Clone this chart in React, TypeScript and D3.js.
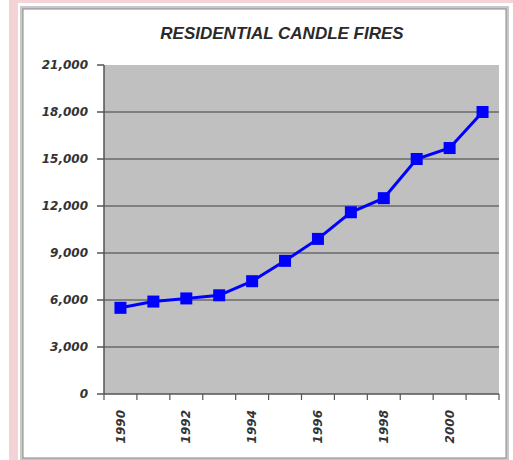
import React from "react";
import * as d3 from "d3";

const years = [1990, 1991, 1992, 1993, 1994, 1995, 1996, 1997, 1998, 1999, 2000, 2001];
const fires = [5500, 5900, 6100, 6300, 7200, 8500, 9900, 11600, 12500, 15000, 15700, 18000];
const yTicks = [0, 3000, 6000, 9000, 12000, 15000, 18000, 21000];
const xLabelYears = [1990, 1992, 1994, 1996, 1998, 2000];
const title = "RESIDENTIAL CANDLE FIRES";

export default function App() {
  const W = 513, H = 460;
  const left = 104, right = 499, top = 65, bottom = 394;
  const x = d3.scaleBand<number>().domain(years).range([left, right]).padding(0);
  const y = d3.scaleLinear().domain([0, 21000]).range([bottom, top]);
  const fmt = d3.format(",");
  const line = d3.line<number>()
    .x((_, i) => (x(years[i]) as number) + x.bandwidth() / 2)
    .y((d) => y(d));
  const boundaries = years.map((yr) => x(yr) as number).concat([right]);
  const font = "'DejaVu Sans', Arial, sans-serif";
  const ms = 12;

  return (
    <svg width={W} height={H} style={{ position: "absolute", left: 0, top: 0, background: "#fff" }}>
      {/* pink page strips */}
      <rect x={9} y={0} width={9} height={H} fill="#f4d3d6" />
      <rect x={9} y={0} width={W - 9} height={3} fill="#f4d3d6" />
      {/* chart frame */}
      <rect x={21.5} y={7.5} width={486} height={452} fill="#fff" stroke="#c8c8c8" strokeWidth={3} />
      <rect x={23} y={9} width={483} height={449} fill="#fff" stroke="#888" strokeWidth={1} />
      {/* title */}
      <text x={282} y={39} textAnchor="middle" fontFamily="'Liberation Sans', Arial, sans-serif"
        fontStyle="italic" fontWeight="bold" fontSize={17} fill="#2a2a2a">{title}</text>
      {/* plot area */}
      <rect x={left} y={top} width={right - left} height={bottom - top} fill="#c0c0c0" />
      {/* gridlines & y ticks */}
      {yTicks.map((t) => (
        <g key={t}>
          {t > 0 && t < 21000 && (
            <line x1={left} x2={right} y1={y(t)} y2={y(t)} stroke="#6a6a6a" strokeWidth={1.6} />
          )}
          <line x1={97} x2={left} y1={y(t)} y2={y(t)} stroke="#555" strokeWidth={1.5} />
          <text x={88} y={y(t)} dy="0.35em" textAnchor="end" fontFamily={font} fontStyle="italic"
            fontWeight="bold" fontSize={12} fill="#333">{fmt(t)}</text>
        </g>
      ))}
      {/* axes */}
      <line x1={left} x2={left} y1={top} y2={bottom} stroke="#555" strokeWidth={1.5} />
      <line x1={left} x2={right} y1={bottom} y2={bottom} stroke="#555" strokeWidth={1.5} />
      {boundaries.map((bx, i) => (
        <line key={i} x1={bx} x2={bx} y1={bottom} y2={bottom + 6} stroke="#555" strokeWidth={1.2} />
      ))}
      {xLabelYears.map((yr) => {
        const cx = (x(yr) as number) + x.bandwidth() / 2;
        return (
          <text key={yr} transform={`translate(${cx},${410}) rotate(-90)`} dy="0.35em" textAnchor="end"
            fontFamily={font} fontStyle="italic" fontWeight="bold" fontSize={12} fill="#333">{yr}</text>
        );
      })}
      {/* series */}
      <path d={line(fires) || ""} fill="none" stroke="#0000ff" strokeWidth={3} />
      {fires.map((v, i) => (
        <rect key={i} x={(x(years[i]) as number) + x.bandwidth() / 2 - ms / 2} y={y(v) - ms / 2}
          width={ms} height={ms} fill="#0000ff" />
      ))}
    </svg>
  );
}
